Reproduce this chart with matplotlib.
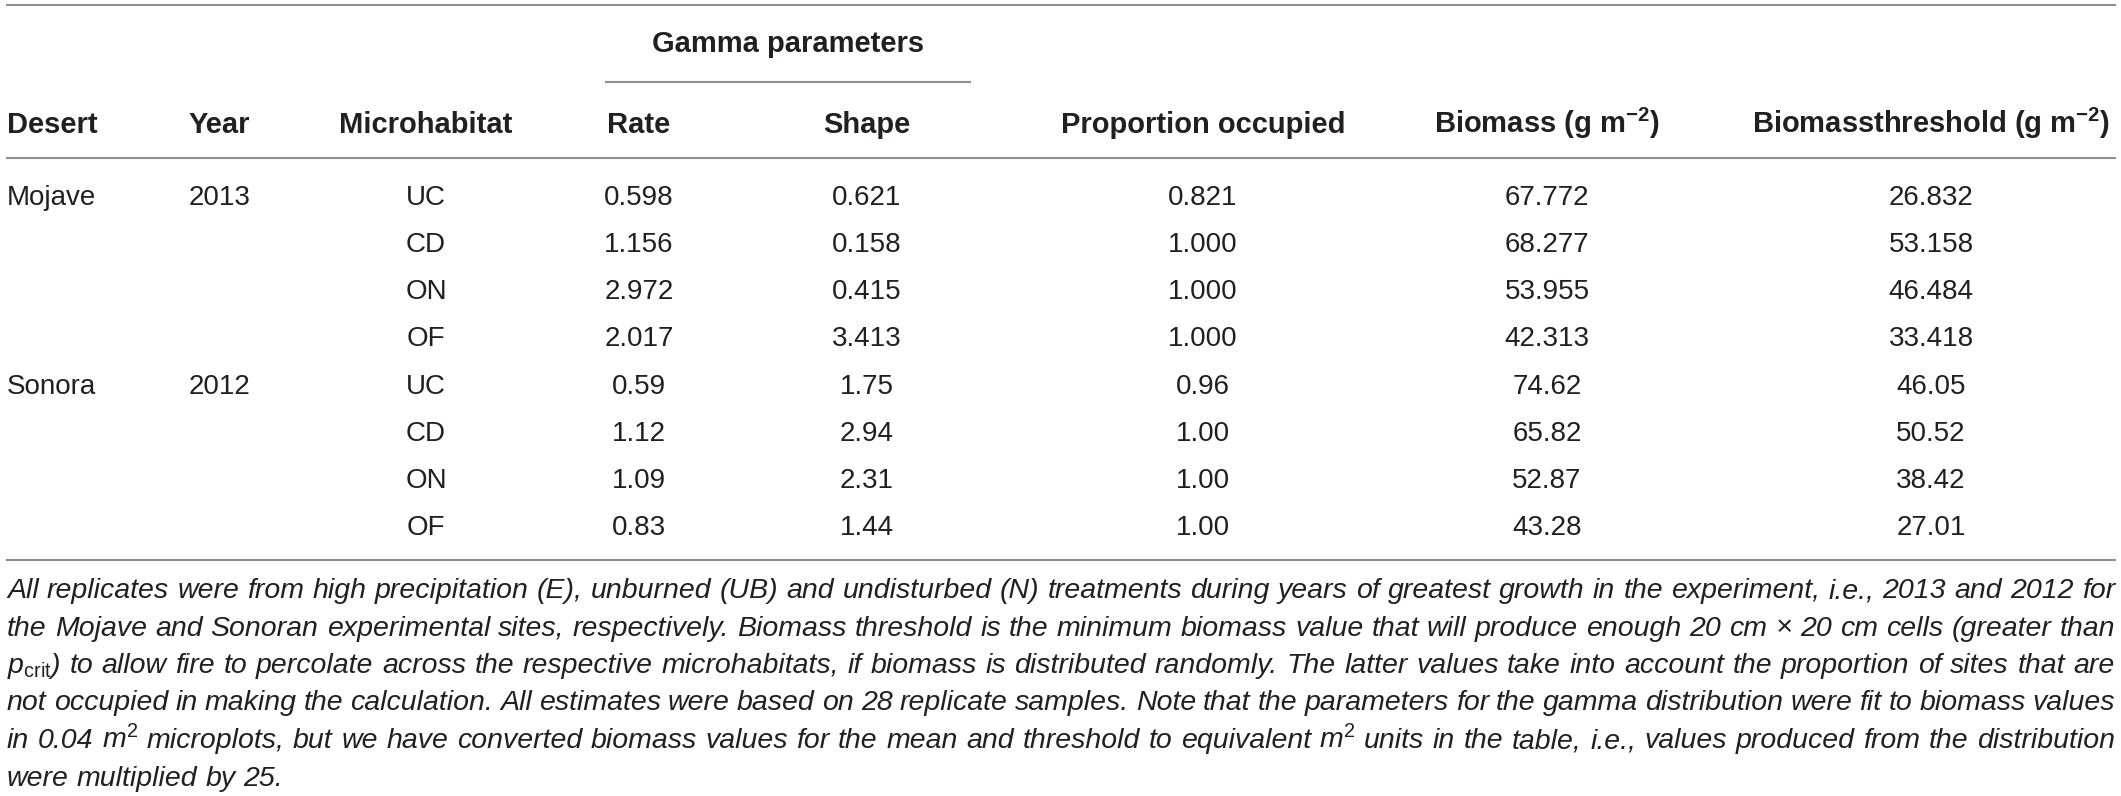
import matplotlib
matplotlib.use("Agg")
import matplotlib.pyplot as plt

plt.rcParams['font.family'] = 'Liberation Sans'
plt.rcParams['mathtext.fontset'] = 'custom'
plt.rcParams['mathtext.rm'] = 'Liberation Sans'
plt.rcParams['mathtext.it'] = 'Liberation Sans:italic'
plt.rcParams['mathtext.bf'] = 'Liberation Sans:bold'

# Datos de la tabla
deserts = ['Mojave', 'Sonora']
years = ['2013', '2012']
microhabitats = ['UC', 'CD', 'ON', 'OF', 'UC', 'CD', 'ON', 'OF']
rate = ['0.598', '1.156', '2.972', '2.017', '0.59', '1.12', '1.09', '0.83']
shape = ['0.621', '0.158', '0.415', '3.413', '1.75', '2.94', '2.31', '1.44']
prop_occupied = ['0.821', '1.000', '1.000', '1.000', '0.96', '1.00', '1.00', '1.00']
biomass = ['67.772', '68.277', '53.955', '42.313', '74.62', '65.82', '52.87', '43.28']
threshold = ['26.832', '53.158', '46.484', '33.418', '46.05', '50.52', '38.42', '27.01']

headers = ['Desert', 'Year', 'Microhabitat', 'Rate', 'Shape', 'Proportion occupied',
           r'Biomass (g m$^{\mathbf{-2}}$)', r'Biomassthreshold (g m$^{\mathbf{-2}}$)']
group_header = 'Gamma parameters'

caption = [
    "All replicates were from high precipitation (E), unburned (UB) and undisturbed (N) treatments during years of greatest growth in the experiment, i.e., 2013 and 2012 for",
    "the Mojave and Sonoran experimental sites, respectively. Biomass threshold is the minimum biomass value that will produce enough 20 cm \u00d7 20 cm cells (greater than",
    r"$p_{\mathrm{crit}}$) to allow fire to percolate across the respective microhabitats, if biomass is distributed randomly. The latter values take into account the proportion of sites that are",
    "not occupied in making the calculation. All estimates were based on 28 replicate samples. Note that the parameters for the gamma distribution were fit to biomass values",
    r"in 0.04 m$^{\mathrm{2}}$ microplots, but we have converted biomass values for the mean and threshold to equivalent m$^{\mathrm{2}}$ units in the table, i.e., values produced from the distribution",
    "were multiplied by 25.",
]

W, H = 2121, 796
fig = plt.figure(figsize=(W / 100, H / 100), dpi=100)
ax = fig.add_axes([0, 0, 1, 1])
ax.set_xlim(0, W)
ax.set_ylim(H, 0)
ax.axis('off')

txt = '#231f20'
rule = '#8f8f8f'
x_left, x_right = 7, 2115

# Lineas horizontales
ax.plot([x_left, x_right], [5, 5], color=rule, lw=1.5)
ax.plot([x_left, x_right], [158, 158], color=rule, lw=1.5)
ax.plot([x_left, x_right], [560, 560], color=rule, lw=1.5)
ax.plot([606, 970], [82, 82], color=rule, lw=1.5)

# Columnas: (x, alineacion)
cols = [(7, 'left'), (189, 'left'), (426, 'center'), (639, 'center'), (867, 'center'),
        (1203, 'center'), (1547, 'center'), (1931, 'center')]

ax.text(788, 52, group_header, ha='center', va='baseline', fontsize=21,
        fontweight='bold', color=txt)
for (x, al), h in zip(cols, headers):
    ax.text(x, 133, h, ha=al, va='baseline', fontsize=21, fontweight='bold', color=txt)

row0, step = 205, 47.15
columnas = [microhabitats, rate, shape, prop_occupied, biomass, threshold]
for i in range(len(microhabitats)):
    y = row0 + i * step
    if i % 4 == 0:
        g = i // 4
        ax.text(cols[0][0], y, deserts[g], ha='left', va='baseline', fontsize=20, color=txt)
        ax.text(cols[1][0], y, years[g], ha='left', va='baseline', fontsize=20, color=txt)
    for (x, al), col in zip(cols[2:], columnas):
        ax.text(x, y, col[i], ha=al, va='baseline', fontsize=20, color=txt)

# Leyenda justificada
r = fig.canvas.get_renderer()
cap_size = 20.5
base0, cstep = 598, 37.5
for k, line in enumerate(caption):
    y = base0 + k * cstep
    words = line.split(' ')
    ts = [ax.text(0, y, w, ha='left', va='baseline', fontsize=cap_size,
                  style='italic', color=txt) for w in words]
    widths = [t.get_window_extent(r).width for t in ts]
    space = cap_size * 0.278 * 100 / 72
    if k == len(caption) - 1:
        gap = space
    else:
        gap = (x_right - x_left - sum(widths)) / (len(words) - 1)
        gap = max(gap, space * 0.6)
    x = x_left
    for t, w in zip(ts, widths):
        t.set_x(x)
        x += w + gap

fig.savefig('out.png', dpi=100)
